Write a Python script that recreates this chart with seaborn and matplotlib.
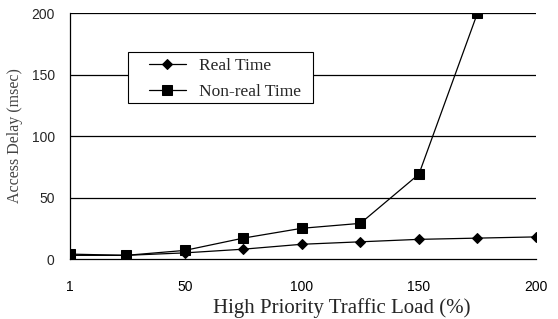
#!/usr/bin/env python3
"""Access delay vs high priority traffic load"""
import numpy as np
import pandas as pd
import matplotlib
matplotlib.use("Agg")
import matplotlib.pyplot as plt
from matplotlib.patches import Rectangle
import seaborn as sns

# Data
load = [1, 25, 50, 75, 100, 125, 150, 175, 200]
real_time = [3, 3, 5, 8, 12, 14, 16, 17, 18]
non_real_time = [4, 3, 7, 17, 25, 29, 69, 200, np.nan]
x_ticks = [1, 50, 100, 150, 200]
y_ticks = [0, 50, 100, 150, 200]

sns.set_style("white")
plt.rcParams['font.family'] = ['Liberation Serif', 'DejaVu Serif']

df = pd.DataFrame({
    'load': load * 2,
    'delay': real_time + non_real_time,
    'series': ['Real Time'] * len(load) + ['Non-real Time'] * len(load),
})

fig = plt.figure(figsize=(5.58, 3.19), dpi=100)
ax = fig.add_axes([0.1254, 0.188, 0.8352, 0.771])

for y in y_ticks[1:]:
    ax.axhline(y, color='black', lw=0.9, zorder=1)

sns.lineplot(data=df, x='load', y='delay', style='series',
             markers={'Real Time': 'D', 'Non-real Time': 's'},
             dashes=False, color='black', lw=0.9, ax=ax, zorder=3)
for line in ax.lines[len(y_ticks) - 1:]:
    if line.get_marker() == 'D':
        line.set_markersize(5.5)
    elif line.get_marker() == 's':
        line.set_markersize(7)
    line.set_markeredgecolor('black')

ax.set_xlim(1, 200)
ax.set_ylim(0, 200)
ax.set_xticks(x_ticks)
ax.set_xticks(load, minor=True)
ax.set_yticks(y_ticks)
ax.tick_params(axis='x', which='both', direction='in', length=5, width=0.8,
               pad=15, colors='black')
ax.tick_params(axis='y', length=0, pad=11)
for lab in ax.get_xticklabels() + ax.get_yticklabels():
    lab.set_fontfamily('Liberation Sans')
    lab.set_fontsize(10)

for side in ['top', 'right']:
    ax.spines[side].set_visible(False)
for side in ['left', 'bottom']:
    ax.spines[side].set_color('black')
    ax.spines[side].set_linewidth(0.9)

ax.set_xlabel('High Priority Traffic Load (%)', fontsize=15)
ax.xaxis.set_label_coords(0.583, -0.16)
ax.set_ylabel('Access Delay (msec)', fontsize=11.5, color='#444444')
ax.yaxis.set_label_coords(-0.10, 0.5)

# legend box drawn separately (wider left padding than matplotlib gives)
ax.add_patch(Rectangle((0.1245, 0.634), 0.397, 0.207, transform=ax.transAxes,
                       facecolor='white', edgecolor='black', lw=0.8,
                       zorder=4))
handles, labels = ax.get_legend_handles_labels()
leg = ax.legend(handles, labels, loc='upper left',
                bbox_to_anchor=(0.17, 0.818), borderaxespad=0, borderpad=0,
                frameon=False, fontsize=12.5, handlelength=2.1,
                handletextpad=0.75, labelspacing=0.55)
leg.set_zorder(5)

fig.savefig('out.png', dpi=100)
